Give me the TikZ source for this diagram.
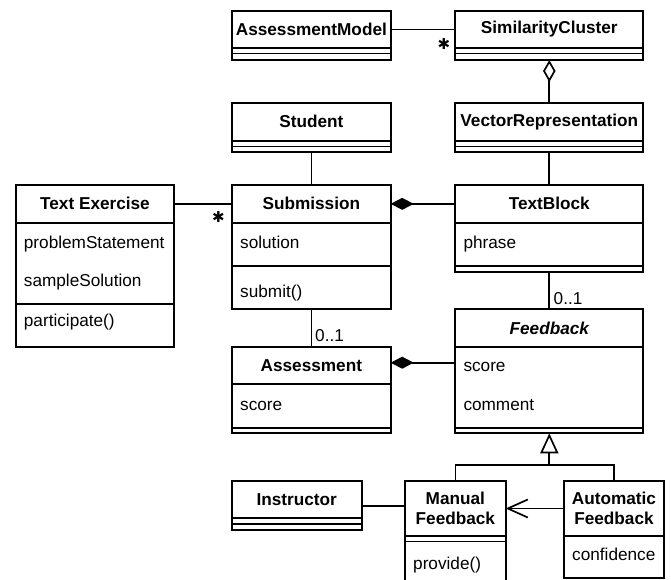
\documentclass[tikz,border=0pt]{standalone}
\usepackage{fontspec}
\setmainfont{Liberation Sans}
\newfontfamily\symfont{DejaVu Sans}
\usetikzlibrary{arrows.meta}

\tikzset{
  umlline/.style={line width=1.7pt},
  frame/.style={draw, line width=1.7pt, inner sep=0pt, outer sep=0pt, anchor=north west},
  hdr/.style={inner sep=0pt, outer sep=0pt, anchor=north west, align=center,
    font=\fontsize{17.2}{19.5}\selectfont\bfseries},
  attr/.style={inner sep=0pt, anchor=base west, font=\fontsize{17.2}{19.5}\selectfont},
  mult/.style={inner sep=0pt, anchor=base west, font=\fontsize{17.2}{19.5}\selectfont},
  manystar/.style={inner sep=0pt, font=\symfont\fontsize{15}{15}\selectfont},
  comp/.style={umlline, {Diamond[length=23pt,width=12pt]}-},
  agg/.style={umlline, {Diamond[open,length=22pt,width=12.5pt,fill=white]}-},
  gen/.style={umlline, -{Triangle[open,length=20pt,width=18pt,fill=white]}},
  nav/.style={umlline, -{Straight Barb[length=20pt,width=18pt]}},
}

% class outline, header and compartment separators
\newcommand\umlframe[5]{\node[frame, minimum width=#4pt, minimum height=#5pt] (#1) at (#2,#3) {};}
\newcommand\umlhead[6]{\node[hdr, minimum width=#4pt, minimum height=#5pt] (#1) at (#2,#3) {#6};}
\newcommand\umlsep[2]{\draw[umlline] (#1.west |- 0,#2) -- (#1.east |- 0,#2);}

\begin{document}
\begin{tikzpicture}[x=1pt, y=-1pt]
\useasboundingbox (0,0) rectangle (671,580);

% AssessmentModel
\umlframe{am}{232}{11}{158.7}{49}
\umlhead{am-h}{232}{11}{158.7}{37}{AssessmentModel}
\umlsep{am}{48} \umlsep{am}{53.5}

% SimilarityCluster
\umlframe{sc}{455.3}{11}{188}{49}
\umlhead{sc-h}{455.3}{11}{188}{37}{SimilarityCluster}
\umlsep{sc}{48} \umlsep{sc}{53.5}

% Student
\umlframe{stu}{232}{102.7}{158.7}{49.6}
\umlhead{stu-h}{232}{102.7}{158.7}{38}{Student}
\umlsep{stu}{140.7} \umlsep{stu}{146.5}

% VectorRepresentation
\umlframe{vr}{455.3}{102.7}{188}{49.6}
\umlhead{vr-h}{455.3}{102.7}{188}{38}{VectorRepresentation}
\umlsep{vr}{140.7} \umlsep{vr}{146.5}

% Text Exercise
\umlframe{te}{15.7}{185}{158.6}{161.7}
\umlhead{te-h}{15.7}{185}{158.6}{37.7}{Text Exercise}
\umlsep{te}{222.7} \umlsep{te}{304}
\node[attr] (te-a1) at (23.7,248.3) {problemStatement};
\node[attr] (te-a2) at (23.7,286) {sampleSolution};
\node[attr] (te-m1) at (23.7,326) {participate()};

% Submission
\umlframe{sub}{232}{185}{158.7}{124.3}
\umlhead{sub-h}{232}{185}{158.7}{37.7}{Submission}
\umlsep{sub}{222.7} \umlsep{sub}{266}
\node[attr] (sub-a1) at (240,248.3) {solution};
\node[attr] (sub-m1) at (240,297.3) {submit()};

% TextBlock
\umlframe{tb}{455.3}{185}{188}{86.7}
\umlhead{tb-h}{455.3}{185}{188}{37.7}{TextBlock}
\umlsep{tb}{222.7} \umlsep{tb}{266}
\node[attr] (tb-a1) at (463.3,248.3) {phrase};

% Feedback (abstract)
\umlframe{fb}{455.3}{309.3}{188}{124}
\umlhead{fb-h}{455.3}{309.3}{188}{37.4}{\itshape Feedback}
\umlsep{fb}{346.7} \umlsep{fb}{427.7}
\node[attr] (fb-a1) at (463.3,371.7) {score};
\node[attr] (fb-a2) at (463.3,410) {comment};

% Assessment
\umlframe{asm}{232}{346.7}{158.7}{86.6}
\umlhead{asm-h}{232}{346.7}{158.7}{37.6}{Assessment}
\umlsep{asm}{384.3} \umlsep{asm}{427.7}
\node[attr] (asm-a1) at (240,410) {score};

% Instructor
\umlframe{inst}{231.7}{481}{130}{49}
\umlhead{inst-h}{231.7}{481}{130}{37.3}{Instructor}
\umlsep{inst}{518.3} \umlsep{inst}{524}

% Manual Feedback
\umlframe{man}{405}{481}{100.7}{103}
\umlhead{man-h}{405}{481}{100.7}{55}{Manual\\Feedback}
\umlsep{man}{536} \umlsep{man}{541.5}
\node[attr] (man-m1) at (413,569) {provide()};

% Automatic Feedback
\umlframe{aut}{564}{481}{100}{96.7}
\umlhead{aut-h}{564}{481}{100}{55}{Automatic\\Feedback}
\umlsep{aut}{536}
\node[attr] (aut-a1) at (572,560.7) {confidence};

% associations
\draw[umlline] (am-h.east) -- (sc-h.west);
\node[manystar] (star1) at (443.8,43.8) {✱};
\draw[agg] (sc.south) -- (vr.north);
\draw[umlline] (stu.south) -- (sub.north);
\draw[umlline] (vr.south) -- (tb.north);
\draw[umlline] (te-h.east) -- (sub-h.west);
\node[manystar] (star2) at (218.3,216.7) {✱};
\draw[comp] (sub-h.east) -- (tb-h.west);
\draw[umlline] (tb.south) -- (fb.north);
\node[mult] (m1) at (553.5,304) {0..1};
\draw[umlline] (sub.south) -- (asm.north);
\node[mult] (m2) at (315,341.7) {0..1};
\draw[comp] (asm.east |- 0,362.7) -- (fb.west |- 0,362.7);

% generalization tree
\path (fb.south) ++(0,31.7) coordinate (gj);
\draw[gen] (gj) -- (fb.south);
\draw[umlline] (man.north) |- (gj) -| (aut.north);

\draw[umlline] (inst.east |- 0,505.7) -- (man.west |- 0,505.7);
\draw[nav] (aut-h.west) -- (man-h.east);
\end{tikzpicture}
\end{document}
